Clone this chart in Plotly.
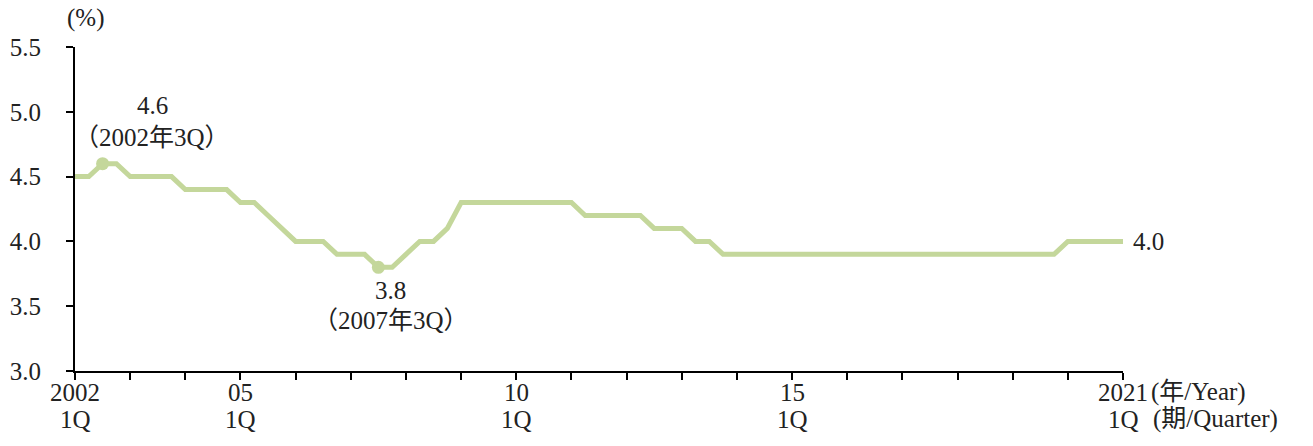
import plotly.graph_objects as go

years = list(range(2002, 2022))
quarters = [f"{y}Q{q}" for y in years for q in range(1, 5)][:77]  # 2002Q1 .. 2021Q1
values = [4.5, 4.5, 4.6, 4.6, 4.5, 4.5, 4.5, 4.5, 4.4, 4.4, 4.4, 4.4, 4.3, 4.3, 4.2, 4.1,
          4.0, 4.0, 4.0, 3.9, 3.9, 3.9, 3.8, 3.8, 3.9, 4.0, 4.0, 4.1,
          4.3, 4.3, 4.3, 4.3, 4.3, 4.3, 4.3, 4.3, 4.3,
          4.2, 4.2, 4.2, 4.2, 4.2, 4.1, 4.1, 4.1, 4.0, 4.0] + [3.9] * 25 + [4.0] * 5
peak_label = ["4.6", "（2002年3Q）"]
trough_label = ["3.8", "（2007年3Q）"]
x_tick_labels = {"2002Q1": "2002", "2005Q1": "05", "2010Q1": "10", "2015Q1": "15", "2021Q1": "2021"}
quarter_label = "1Q"
year_unit = "(年/Year)"
quarter_unit = "(期/Quarter)"
y_unit = "(%)"
y_ticks = [3.0, 3.5, 4.0, 4.5, 5.0, 5.5]

xs = list(range(len(quarters)))
peak_i = quarters.index("2002Q3")
trough_i = quarters.index("2007Q3")

FONT = "Liberation Serif, Noto Sans CJK JP, serif"
GREEN = "#c4d79b"
FS = 25
TXT = "#222222"

fig = go.Figure()
fig.add_trace(go.Scatter(x=xs, y=values, mode="lines",
                         line=dict(color=GREEN, width=5), cliponaxis=False,
                         hoverinfo="skip"))
fig.add_trace(go.Scatter(x=[xs[peak_i], xs[trough_i]], y=[values[peak_i], values[trough_i]],
                         mode="markers", marker=dict(color=GREEN, size=13),
                         cliponaxis=False, hoverinfo="skip"))

tickvals = [i for i, q in enumerate(quarters) if q.endswith("Q1")]


def t(text, **kw):
    d = dict(text=text, showarrow=False, font=dict(size=FS, family=FONT, color=TXT))
    d.update(kw)
    return d


ann = []
for q, lab in x_tick_labels.items():
    i = quarters.index(q)
    ann.append(t(lab, x=i, y=0, xref="x", yref="paper", yanchor="middle", yshift=-21))
    ann.append(t(quarter_label, x=i, y=0, xref="x", yref="paper", yanchor="middle", yshift=-48))
last = len(quarters) - 1
ann += [
    t(year_unit, x=last, y=0, xref="x", yref="paper", xanchor="left", xshift=26,
      yanchor="middle", yshift=-21),
    t(quarter_unit, x=last, y=0, xref="x", yref="paper", xanchor="left", xshift=28,
      yanchor="middle", yshift=-48),
    t(peak_label[0], x=5.6, y=5.045, xref="x", yref="y"),
    t(peak_label[1], x=5.6, y=4.80, xref="x", yref="y"),
    t(trough_label[0], x=22.9, y=3.625, xref="x", yref="y"),
    t(trough_label[1], x=22.9, y=3.393, xref="x", yref="y"),
    t(f"{values[-1]:.1f}", x=last, y=values[-1], xref="x", yref="y", xanchor="left", xshift=8),
    t(y_unit, x=0, y=1, xref="paper", yref="paper", xshift=-10, yshift=29, yanchor="middle"),
]

fig.update_layout(
    width=1313, height=446,
    margin=dict(l=75, r=190, t=47, b=75),
    paper_bgcolor="white", plot_bgcolor="white",
    showlegend=False,
    font=dict(family=FONT, size=FS, color=TXT),
    annotations=ann,
    xaxis=dict(range=[0, last], tickvals=tickvals, showticklabels=False, showgrid=False,
               zeroline=False, showline=True, linecolor="black", linewidth=2,
               ticks="outside", ticklen=7, tickwidth=2, tickcolor="black", automargin=False),
    yaxis=dict(range=[3.0, 5.5], tickvals=y_ticks, ticktext=[f"{v:.1f}" for v in y_ticks],
               showgrid=False, zeroline=False, showline=True, linecolor="black", linewidth=2,
               ticks="outside", ticklen=7, tickwidth=2, tickcolor="black",
               ticklabelstandoff=20, automargin=False,
               tickfont=dict(size=FS, family=FONT, color=TXT)),
)
fig.write_html("out.html", config={"displayModeBar": False},
               post_script="document.body.style.margin='0';")
